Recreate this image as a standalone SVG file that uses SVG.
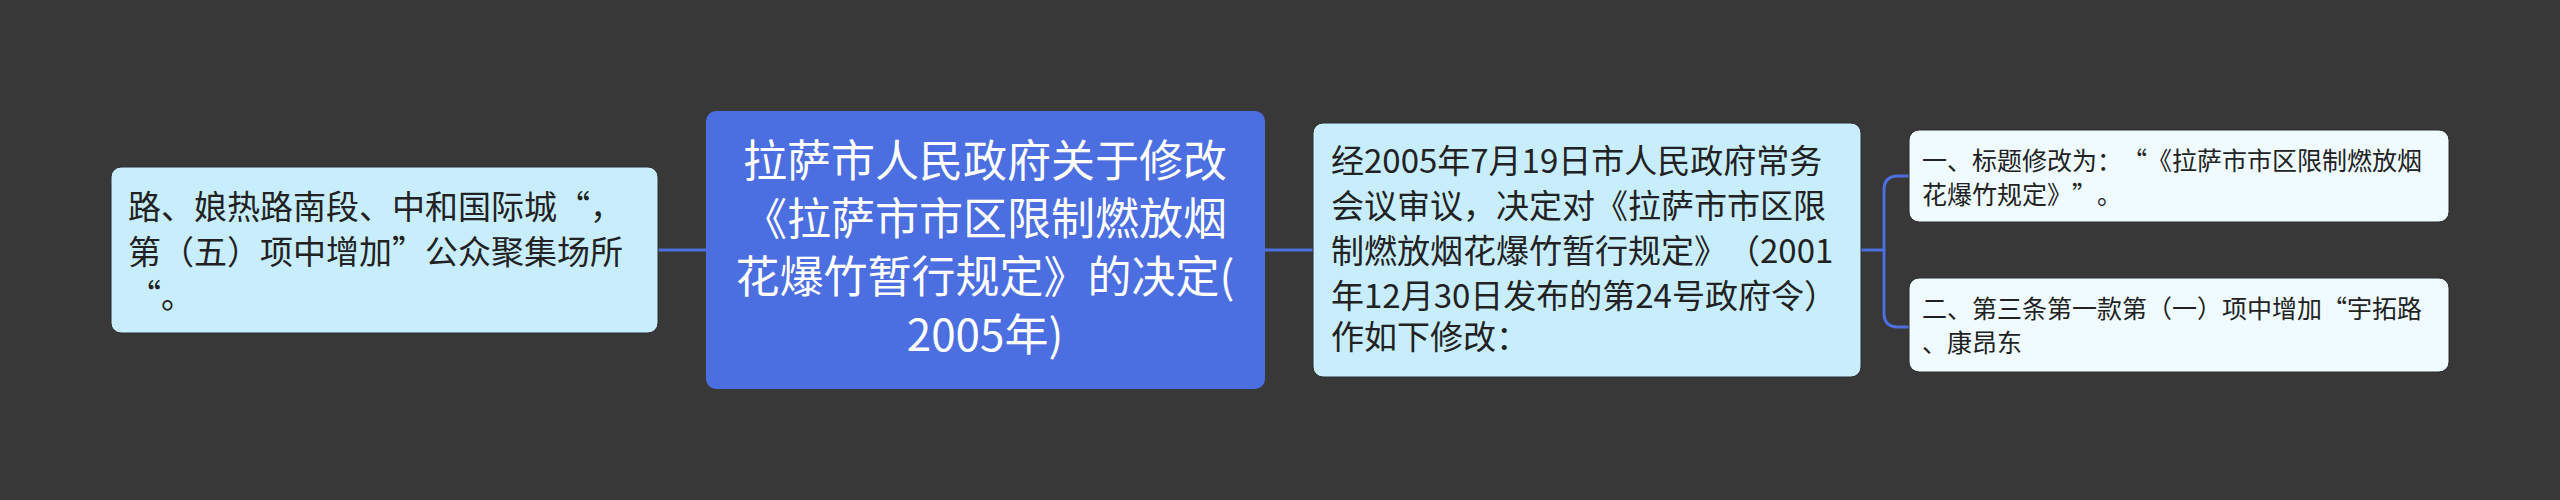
<svg xmlns="http://www.w3.org/2000/svg" width="2560" height="500" viewBox="0 0 2560 500">
<style>
.t{font-family:"Noto Sans CJK SC","Noto Sans",sans-serif;text-spacing-trim:space-all;}
.c{font-size:44px;fill:#ffffff;text-anchor:middle;}
.m{font-size:33px;fill:#222222;}
.l{font-size:25px;fill:#222222;}
.link{fill:none;stroke:#4d6fe0;stroke-width:3;}
</style>
<rect x="0" y="0" width="2560" height="500" fill="#383838"/>
<g id="connectors">
<path class="link" d="M658,250 H706"/>
<path class="link" d="M1265,250 H1313"/>
<path class="link" d="M1861,250 H1884 V190 Q1884,176 1898,176 H1909"/>
<path class="link" d="M1884,250 V313 Q1884,327 1898,327 H1909"/>
</g>
<g id="node-left">
<rect x="111" y="167" width="547" height="166" rx="10" fill="#c8eefd" stroke="#2c2c2c" stroke-width="1"/>
<text class="t m" x="128" y="219">路、娘热路南段、中和国际城“，</text>
<text class="t m" x="128" y="264">第（五）项中增加”公众聚集场所</text>
<text class="t m" x="128" y="308">“。</text>
</g>
<g id="node-center">
<rect x="706" y="111" width="559" height="278" rx="10" fill="#4b6ee0"/>
<text class="t c" x="985" y="177">拉萨市人民政府关于修改</text>
<text class="t c" x="985" y="235">《拉萨市市区限制燃放烟</text>
<text class="t c" x="985" y="293">花爆竹暂行规定》的决定(</text>
<text class="t c" x="985" y="351">2005年)</text>
</g>
<g id="node-mid">
<rect x="1313" y="123" width="548" height="254" rx="10" fill="#c8eefd" stroke="#2c2c2c" stroke-width="1"/>
<text class="t m" x="1331" y="173">经2005年7月19日市人民政府常务</text>
<text class="t m" x="1331" y="218">会议审议，决定对《拉萨市市区限</text>
<text class="t m" x="1331" y="263">制燃放烟花爆竹暂行规定》（2001</text>
<text class="t m" x="1331" y="308">年12月30日发布的第24号政府令）</text>
<text class="t m" x="1331" y="349">作如下修改：</text>
</g>
<g id="node-leaf1">
<rect x="1909" y="130" width="540" height="92" rx="10" fill="#effbfe" stroke="#2c2c2c" stroke-width="1"/>
<text class="t l" x="1922" y="170">一、标题修改为：“《拉萨市市区限制燃放烟</text>
<text class="t l" x="1922" y="204">花爆竹规定》”。</text>
</g>
<g id="node-leaf2">
<rect x="1909" y="278" width="540" height="94" rx="10" fill="#effbfe" stroke="#2c2c2c" stroke-width="1"/>
<text class="t l" x="1922" y="318">二、第三条第一款第（一）项中增加“宇拓路</text>
<text class="t l" x="1922" y="352">、康昂东</text>
</g>
</svg>
